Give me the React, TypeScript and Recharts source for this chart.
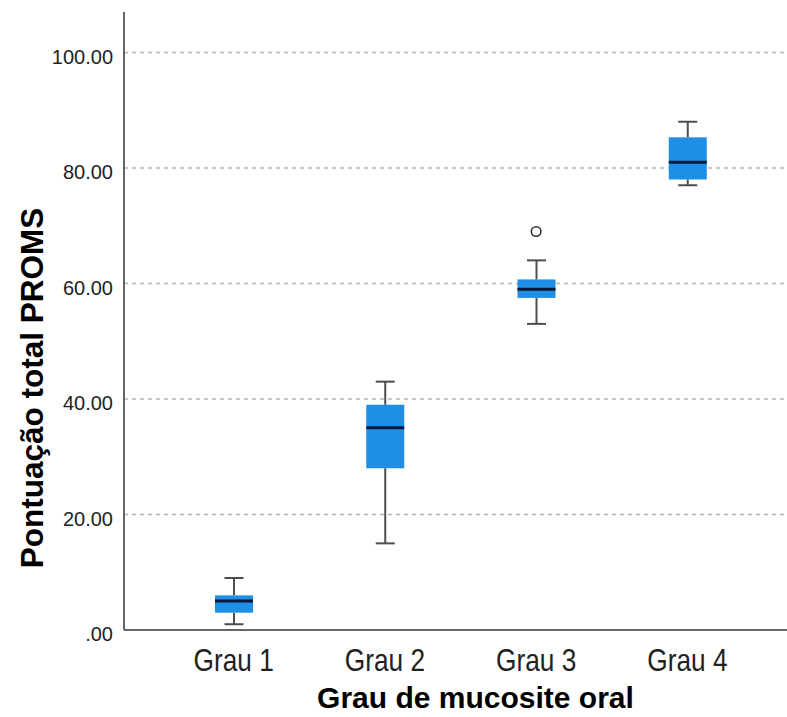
import { ComposedChart, Bar, Scatter, XAxis, YAxis, CartesianGrid, Label } from "recharts";

const categories = ["Grau 1", "Grau 2", "Grau 3", "Grau 4"];
const minValues = [1, 15, 53, 77];
const q1Values = [3, 28, 57.5, 78];
const medianValues = [5, 35, 59, 81];
const q3Values = [6, 39, 60.7, 85.3];
const maxValues = [9, 43, 64, 88];
const outlierValues: (number | null)[] = [null, null, 69, null];
const yTicks = [0, 20, 40, 60, 80, 100];
const gridValues = [20, 40, 60, 80, 100];

// stacked segments: invisible base, then whisker / box / box / whisker
const data = categories.map((name, i) => ({
  name,
  base: minValues[i],
  lowerWhisker: q1Values[i] - minValues[i],
  lowerBox: medianValues[i] - q1Values[i],
  upperBox: q3Values[i] - medianValues[i],
  upperWhisker: maxValues[i] - q3Values[i],
  outlier: outlierValues[i],
}));

const BOX = "#1f8fe5";
const WHISKER = "#4d4d4d";
const MEDIAN = "#07193a";

const LowerWhisker = (props: any) => {
  const { x, y, width, height } = props;
  const cx = x + width / 2;
  const bottom = y + height;
  return (
    <g>
      <line x1={cx} x2={cx} y1={y} y2={bottom} stroke={WHISKER} strokeWidth={2} />
      <line x1={cx - width / 4} x2={cx + width / 4} y1={bottom} y2={bottom} stroke={WHISKER} strokeWidth={2} />
    </g>
  );
};

const UpperWhisker = (props: any) => {
  const { x, y, width, height } = props;
  const cx = x + width / 2;
  return (
    <g>
      <line x1={cx} x2={cx} y1={y} y2={y + height} stroke={WHISKER} strokeWidth={2} />
      <line x1={cx - width / 4} x2={cx + width / 4} y1={y} y2={y} stroke={WHISKER} strokeWidth={2} />
    </g>
  );
};

const LowerBox = (props: any) => {
  const { x, y, width, height } = props;
  return <rect x={x} y={y} width={width} height={height} fill={BOX} />;
};

const UpperBox = (props: any) => {
  const { x, y, width, height } = props;
  return (
    <g>
      <rect x={x} y={y} width={width} height={height} fill={BOX} />
      <line x1={x} x2={x + width} y1={y + height} y2={y + height} stroke={MEDIAN} strokeWidth={3} />
    </g>
  );
};

const Outlier = (props: any) => {
  const { cx, cy, payload } = props;
  if (payload?.outlier == null) return <g />;
  return <circle cx={cx} cy={cy} r={4.8} fill="#fff" stroke="#333" strokeWidth={1.6} />;
};

// narrow-looking category labels
const CategoryTick = (props: any) => {
  const { x, y, payload } = props;
  return (
    <g transform={`translate(${x},${y})`}>
      <text
        transform="scale(0.82,1)"
        textAnchor="middle"
        dy="0.71em"
        fontFamily="'Liberation Sans', Arial, sans-serif"
        fontSize={32}
        fill="#222"
      >
        {payload.value}
      </text>
    </g>
  );
};

const XTitle = (props: any) => {
  const { x, width, y } = props.viewBox;
  return (
    <text
      x={x + width / 2 + 20}
      y={y + 78}
      textAnchor="middle"
      fontFamily="'Liberation Sans', Arial, sans-serif"
      fontWeight="bold"
      fontSize={30}
      fill="#000"
    >
      Grau de mucosite oral
    </text>
  );
};

const YTitle = (props: any) => {
  const { y, height } = props.viewBox;
  return (
    <text
      transform={`translate(43, ${y + height / 2 + 67}) rotate(-90)`}
      textAnchor="middle"
      fontFamily="'Liberation Sans', Arial, sans-serif"
      fontWeight="bold"
      fontSize={31.5}
      fill="#000"
    >
      Pontuação total PROMS
    </text>
  );
};

const App = () => {
  return (
    <div style={{ position: "absolute", left: 0, top: 0, width: 787, height: 717, background: "#fff" }}>
      <ComposedChart width={787} height={717} data={data} margin={{ top: 12, right: 0, bottom: 0, left: 0 }}>
        <CartesianGrid
          vertical={false}
          horizontalValues={gridValues}
          stroke="#b5b5b5"
          strokeWidth={1.5}
          strokeDasharray="4 4"
        />
        <XAxis
          dataKey="name"
          height={87}
          padding={{ left: 34, right: 24 }}
          axisLine={{ stroke: "#666", strokeWidth: 2 }}
          tickLine={false}
          tickSize={0}
          tickMargin={18}
          tick={<CategoryTick />}
        >
          <Label content={<XTitle />} />
        </XAxis>
        <YAxis
          width={124}
          domain={[0, 107]}
          ticks={yTicks}
          allowDataOverflow
          tickFormatter={(v: number) => (v === 0 ? ".00" : v.toFixed(2))}
          axisLine={{ stroke: "#666", strokeWidth: 2 }}
          tickLine={false}
          tickSize={0}
          tickMargin={11}
          tick={{ fontFamily: "'Liberation Sans', Arial, sans-serif", fontSize: 20, fill: "#222", dy: 4 }}
        >
          <Label content={<YTitle />} />
        </YAxis>
        <Bar dataKey="base" stackId="box" barSize={38} fill="none" isAnimationActive={false} />
        <Bar dataKey="lowerWhisker" stackId="box" barSize={38} shape={<LowerWhisker />} isAnimationActive={false} />
        <Bar dataKey="lowerBox" stackId="box" barSize={38} shape={<LowerBox />} isAnimationActive={false} />
        <Bar dataKey="upperBox" stackId="box" barSize={38} shape={<UpperBox />} isAnimationActive={false} />
        <Bar dataKey="upperWhisker" stackId="box" barSize={38} shape={<UpperWhisker />} isAnimationActive={false} />
        <Scatter dataKey="outlier" shape={<Outlier />} isAnimationActive={false} />
      </ComposedChart>
    </div>
  );
};

export default App;
